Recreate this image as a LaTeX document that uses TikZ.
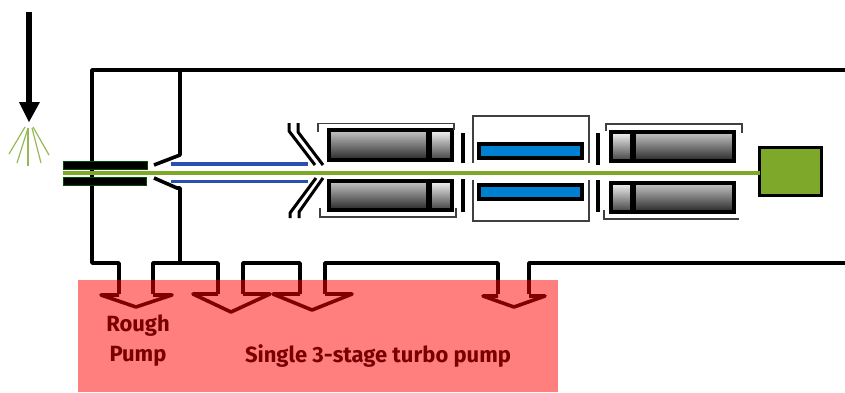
\documentclass[tikz,border=0pt]{standalone}
\usepackage{fontspec}
\setmainfont{Fira Sans}
\definecolor{pumptext}{HTML}{7A0000}
\definecolor{beamgreen}{HTML}{7DA82A}
\definecolor{ionblue}{HTML}{2A4FB0}
\definecolor{cellblue}{HTML}{0080D0}
\begin{document}
\begin{tikzpicture}[x=1pt, y=-1pt,
  wall/.style={draw=black, line width=3.6pt, line join=round},
  thinwall/.style={draw=black!75, line width=1.6pt},
  rodlong/.style={draw=black, line width=4pt, inner sep=0pt, outer sep=0pt, top color=black!22, bottom color=black!85},
  rodshort/.style={draw=black, line width=4pt, inner sep=0pt, outer sep=0pt, top color=black!4, bottom color=black!75},
  cellrod/.style={draw=black, line width=3.6pt, fill=cellblue, inner sep=0pt, outer sep=0pt, minimum width=103.5pt, minimum height=14.5pt},
  capillary/.style={draw=black!70!green, line width=0.5pt, fill=black, inner sep=0pt, outer sep=0pt, minimum height=8pt},
  pumplabel/.style={text=pumptext, font=\bfseries\fontsize{22}{30}\selectfont, align=center, inner sep=0pt}]
\useasboundingbox (0,0) rectangle (845,392);

% vacuum chamber
\draw[wall] (845,70) -- (92,70) -- (92,263) -- (119,263) -- (119,294);
\draw[wall] (180,70) -- (180,155) -- (154,165);
\draw[wall] (154,178) -- (177,188) -- (180,188) -- (180,263);
\draw[wall] (153,294) -- (153,263) -- (218,263) -- (218,294);
\draw[wall] (243,294) -- (243,263) -- (300,263) -- (300,294);
\draw[wall] (325,294) -- (325,263) -- (498,263) -- (498,294);
\draw[wall] (529,294) -- (529,263) -- (845,263);

% pump arrow heads
\draw[wall] (119,295) -- (101,295) -- (136,307) -- (172,295) -- (153,295);
\draw[wall] (218,294) -- (193,294) -- (231,312) -- (270,294) -- (243,294);
\draw[wall] (300,294) -- (273,294) -- (312,310) -- (352,294) -- (325,294);
\draw[wall] (498,296) -- (483,296) -- (514,307) -- (545,296) -- (529,296);

% inlet
\node[capillary, minimum width=84pt] at (105,165) (capup) {};
\node[capillary, minimum width=83pt] at (104.5,181) (caplow) {};
\draw[draw=ionblue, line width=3.2pt] (171,164) -- (308,164);
\draw[draw=ionblue, line width=3.2pt] (171,181.5) -- (308,181.5);

% skimmers
\draw[wall, line width=3pt] (289,123) -- (289,131) -- (315,165);
\draw[wall, line width=3pt] (298,123) -- (298,132) -- (323,165);
\draw[wall, line width=3pt] (290,218) -- (290,213) -- (316,178);
\draw[wall, line width=3pt] (299,218) -- (299,212) -- (323,178);

% first quadrupole
\node[rodlong, minimum width=99pt, minimum height=30pt] at (378.5,145) (qzeroup) {};
\node[rodshort, minimum width=22pt, minimum height=30pt] at (441,145) (qzeroupend) {};
\node[rodlong, minimum width=99pt, minimum height=29pt] at (378.5,195.5) (qzerolow) {};
\node[rodshort, minimum width=22pt, minimum height=29pt] at (441,195.5) (qzerolowend) {};
\draw[thinwall] (318,132) -- (318,123.5) -- (454,123.5) -- (454,130);
\draw[thinwall] (320,208) -- (320,217) -- (456,217) -- (456,208);
\draw[wall] (463,133) -- (463,163);
\draw[wall] (463,179) -- (463,212);

% collision cell
\draw[thinwall] (473,163) -- (473,116) -- (589,116) -- (589,163);
\draw[thinwall] (473,180) -- (473,221) -- (589,221) -- (589,180);
\node[cellrod] at (530.5,151) (cellup) {};
\node[cellrod] at (530.5,192) (celllow) {};
\draw[wall] (598,133) -- (598,165);
\draw[wall] (598,180) -- (598,212);

% second quadrupole
\node[rodshort, minimum width=21pt, minimum height=29pt] at (621.5,146.5) (qtwoupend) {};
\node[rodlong, minimum width=100pt, minimum height=29pt] at (684,146.5) (qtwoup) {};
\node[rodshort, minimum width=21pt, minimum height=29pt] at (621.5,197.5) (qtwolowend) {};
\node[rodlong, minimum width=100pt, minimum height=29pt] at (684,197.5) (qtwolow) {};
\draw[thinwall] (606,131) -- (606,124) -- (742,124) -- (742,133);
\draw[thinwall] (604,210) -- (604,219) -- (739,219);

% detector and beam
\node[draw=black, line width=3.4pt, fill=beamgreen, inner sep=0pt, outer sep=0pt, minimum width=61.6pt, minimum height=47.6pt] at (790.5,171.5) (detector) {};
\coordinate (beamstart) at (63,173);
\draw[draw=beamgreen, line width=3.2pt] (beamstart) -- (detector.west |- beamstart);

% sample arrow and spray
\coordinate (arrowtop) at (29,12);
\coordinate (arrowtip) at (29,122);
\draw[draw=black, line width=6pt] (arrowtop) -- (29,104);
\fill[black] (19,102) -- (40,102) -- (arrowtip) -- cycle;
\draw[draw=beamgreen!80, line width=1.2pt] (25,127) -- (9,154);
\draw[draw=beamgreen!80, line width=1.2pt] (28,128) -- (17,163);
\draw[draw=beamgreen!80, line width=1.2pt] (28,128) -- (28,166);
\draw[draw=beamgreen!80, line width=1.2pt] (32,128) -- (41,163);
\draw[draw=beamgreen!80, line width=1.2pt] (33,127) -- (49,155);

% pump region
\node[fill=red, fill opacity=0.5, inner sep=0pt, outer sep=0pt, minimum width=480pt, minimum height=112pt] at (318,336) (pumpzone) {};
\node[pumplabel] at (138,341) (roughpump) {Rough\\Pump};
\node[pumplabel] at (378,356) (turbopump) {Single 3-stage turbo pump};
\end{tikzpicture}
\end{document}
